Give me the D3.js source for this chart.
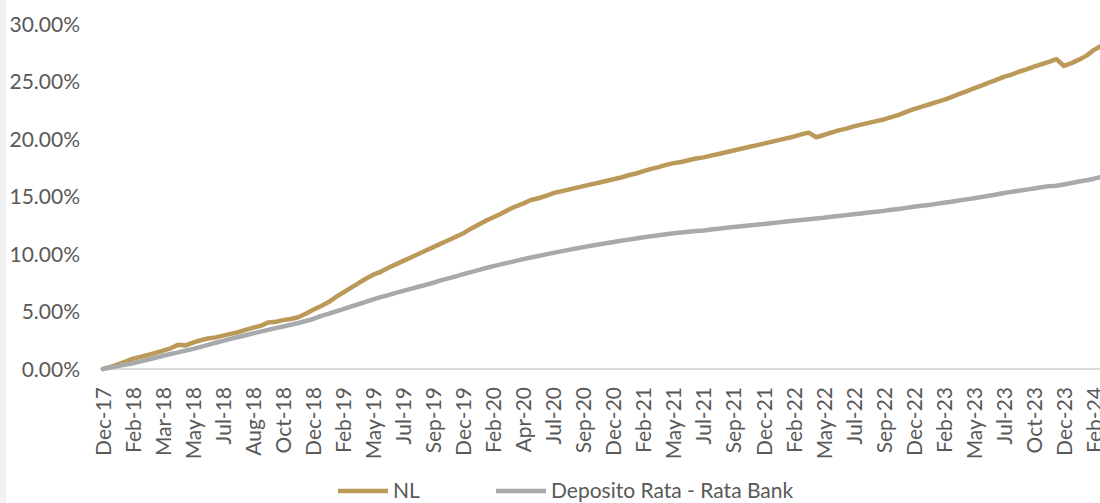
<!DOCTYPE html>
<html>
<head>
<meta charset="utf-8">
<script src="https://cdn.jsdelivr.net/npm/d3@7"></script>
<style>
  html, body { margin: 0; padding: 0; background: #f2f2f2; }
  svg { display: block; }
  text { font-family: Lato, "Noto Sans", sans-serif; fill: #595959; }
</style>
</head>
<body>
<svg id="chart" width="1100" height="503"></svg>
<script>
// x-axis category labels
const labels = ["Dec-17", "Feb-18", "Mar-18", "May-18", "Jul-18", "Aug-18", "Oct-18", "Dec-18",
  "Feb-19", "May-19", "Jul-19", "Sep-19", "Dec-19", "Feb-20", "Apr-20", "Jul-20", "Sep-20",
  "Dec-20", "Feb-21", "May-21", "Jul-21", "Sep-21", "Dec-21", "Feb-22", "May-22", "Jul-22",
  "Sep-22", "Dec-22", "Feb-23", "May-23", "Jul-23", "Oct-23", "Dec-23", "Feb-24"];

// readings per label interval
const samplesPerLabel = 4;

// cumulative return, % (NL)
const nl = [
  0.00, 0.18, 0.40, 0.65, 0.90, 1.05, 1.22, 1.40, 1.60, 1.80, 2.10, 2.05, 2.30, 2.50, 2.65, 2.75,
  2.90, 3.05, 3.20, 3.40, 3.60, 3.75, 4.05, 4.10, 4.25, 4.35, 4.50, 4.80, 5.15, 5.45, 5.80, 6.25,
  6.65, 7.05, 7.45, 7.85, 8.20, 8.45, 8.80, 9.10, 9.40, 9.70, 10.00, 10.30, 10.60, 10.90, 11.20, 11.50,
  11.80, 12.20, 12.55, 12.90, 13.20, 13.50, 13.85, 14.15, 14.40, 14.70, 14.85, 15.05, 15.30, 15.45, 15.60, 15.75,
  15.90, 16.05, 16.20, 16.35, 16.50, 16.65, 16.85, 17.00, 17.20, 17.40, 17.55, 17.75, 17.90, 18.00, 18.15, 18.30,
  18.40, 18.55, 18.70, 18.85, 19.00, 19.15, 19.30, 19.45, 19.60, 19.75, 19.90, 20.05, 20.20, 20.40, 20.55, 20.15,
  20.35, 20.55, 20.75, 20.90, 21.10, 21.25, 21.40, 21.55, 21.70, 21.90, 22.10, 22.35, 22.60, 22.80, 23.00, 23.20,
  23.40, 23.65, 23.90, 24.15, 24.40, 24.65, 24.90, 25.15, 25.40, 25.60, 25.85, 26.05, 26.30, 26.50, 26.70, 26.95,
  26.35, 26.60, 26.90, 27.25, 27.75, 28.10
];

// cumulative return, % (Deposito Rata - Rata Bank)
const deposito = [
  0.00, 0.12, 0.25, 0.38, 0.50, 0.66, 0.82, 0.98, 1.15, 1.30, 1.45, 1.60, 1.75, 1.92, 2.10, 2.28,
  2.45, 2.62, 2.78, 2.94, 3.10, 3.25, 3.40, 3.55, 3.70, 3.85, 4.00, 4.17, 4.35, 4.60, 4.80, 5.00,
  5.20, 5.42, 5.63, 5.84, 6.05, 6.25, 6.43, 6.62, 6.80, 6.97, 7.15, 7.32, 7.50, 7.70, 7.88, 8.06,
  8.25, 8.43, 8.60, 8.78, 8.95, 9.10, 9.25, 9.40, 9.55, 9.70, 9.83, 9.97, 10.10, 10.23, 10.36, 10.48,
  10.60, 10.72, 10.83, 10.94, 11.05, 11.15, 11.25, 11.35, 11.45, 11.54, 11.63, 11.72, 11.80, 11.86, 11.93, 12.00,
  12.05, 12.13, 12.20, 12.28, 12.35, 12.41, 12.48, 12.54, 12.60, 12.68, 12.75, 12.83, 12.90, 12.96, 13.03, 13.09,
  13.15, 13.23, 13.30, 13.38, 13.45, 13.53, 13.60, 13.68, 13.75, 13.84, 13.92, 14.01, 14.10, 14.19, 14.27, 14.36,
  14.45, 14.55, 14.65, 14.75, 14.85, 14.96, 15.07, 15.18, 15.30, 15.40, 15.50, 15.60, 15.70, 15.80, 15.90, 15.93,
  16.05, 16.18, 16.30, 16.42, 16.55, 16.70
];

const yTicks = [0, 0.05, 0.10, 0.15, 0.20, 0.25, 0.30];

const series = [
  { name: "NL", values: nl, color: "#bb9958" },
  { name: "Deposito Rata - Rata Bank", values: deposito, color: "#a7a9ac" }
];

const svg = d3.select("#chart");
const W = 1100, H = 503;

// white chart area (thin grey strip at the left edge)
svg.append("rect").attr("x", 6).attr("y", 0).attr("width", W - 6).attr("height", H).attr("fill", "#ffffff");

const x = d3.scaleLinear().domain([0, labels.length - 1]).range([103, 1094]);
const y = d3.scaleLinear().domain([0, 0.30]).range([369, 24]);

// baseline at 0%
svg.append("line")
    .attr("x1", 100).attr("x2", W)
    .attr("y1", y(0)).attr("y2", y(0))
    .attr("stroke", "#d9d9d9").attr("stroke-width", 2);

// y axis labels
const yAxis = svg.append("g")
    .attr("transform", "translate(80,0)")
    .call(d3.axisLeft(y).tickValues(yTicks).tickFormat(d3.format(".2%")).tickSize(0).tickPadding(0));
yAxis.select(".domain").remove();
yAxis.selectAll("text")
    .style("font-size", "21px")
    .attr("fill", "#595959")
    .attr("dy", "0.35em");

// x axis labels (rotated)
const xAxis = svg.append("g")
    .attr("transform", `translate(0,${y(0)})`)
    .call(d3.axisBottom(x).tickValues(d3.range(labels.length)).tickFormat(i => labels[i]).tickSize(0));
xAxis.select(".domain").remove();
xAxis.selectAll("text")
    .style("font-size", "21px")
    .attr("fill", "#595959")
    .attr("text-anchor", "end")
    .attr("transform", "rotate(-90)")
    .attr("x", -18)
    .attr("y", 0)
    .attr("dy", "0.35em");

// lines
const line = d3.line()
    .x((d, i) => x(i / samplesPerLabel))
    .y(d => y(d / 100));

series.forEach(s => {
    svg.append("path")
        .datum(s.values)
        .attr("d", line)
        .attr("fill", "none")
        .attr("stroke", s.color)
        .attr("stroke-width", 4.5)
        .attr("stroke-linejoin", "round")
        .attr("stroke-linecap", "round");
});

// legend
const legendItems = [
    { x: 338, s: series[0] },
    { x: 496, s: series[1] }
];
const legend = svg.append("g").attr("transform", "translate(0,491)");
legendItems.forEach(item => {
    legend.append("line")
        .attr("x1", item.x).attr("x2", item.x + 50)
        .attr("y1", 0).attr("y2", 0)
        .attr("stroke", item.s.color).attr("stroke-width", 4.5);
    legend.append("text")
        .attr("x", item.x + 55).attr("y", 0).attr("dy", "0.35em")
        .style("font-size", "21px")
        .text(item.s.name);
});
</script>
</body>
</html>
